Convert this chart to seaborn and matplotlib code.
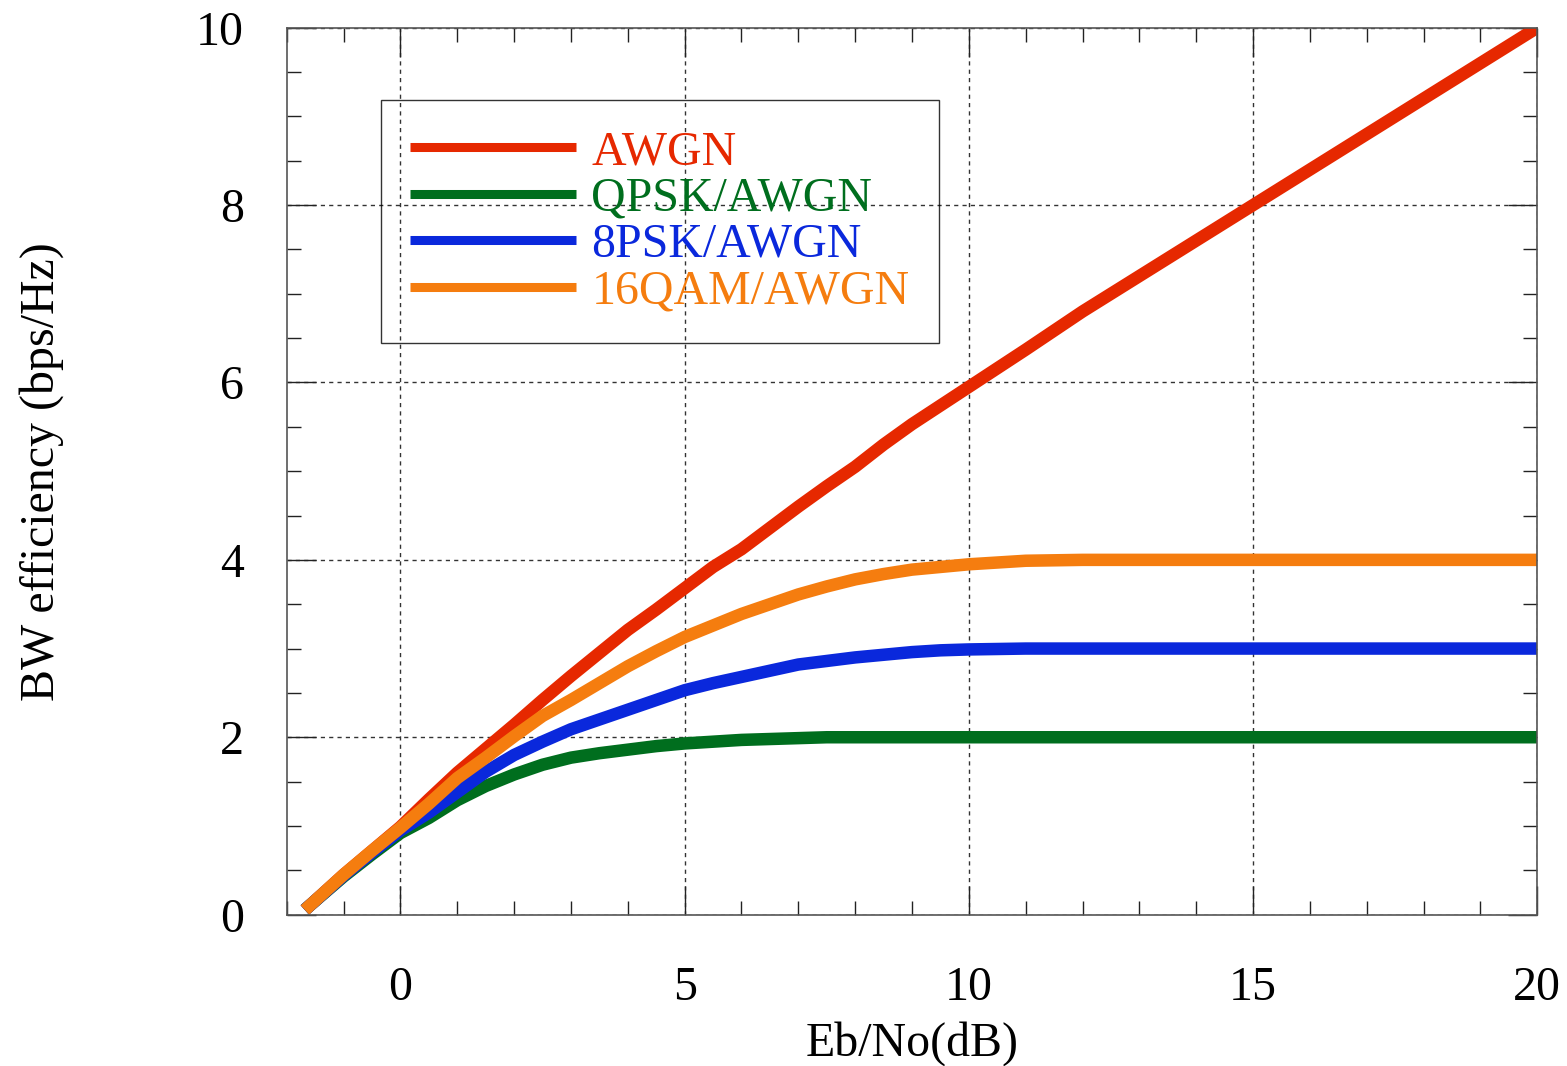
import pandas as pd
import matplotlib
matplotlib.use("Agg")
import matplotlib.pyplot as plt
import seaborn as sns
from matplotlib.ticker import MultipleLocator

# Eb/No (dB) sampling points
ebno = [-1.6, -1.0, -0.5, 0.0, 0.5, 1.0, 1.5, 2.0, 2.5, 3.0, 3.5, 4.0, 4.5,
        5.0, 5.5, 6.0, 6.5, 7.0, 7.5, 8.0, 8.5, 9.0, 9.5, 10.0,
        11, 12, 13, 14, 15, 16, 17, 18, 19, 20]

awgn = [0.1, 0.45, 0.72, 0.99, 1.3, 1.6, 1.87, 2.14, 2.42, 2.69, 2.95, 3.21,
        3.44, 3.68, 3.92, 4.12, 4.36, 4.6, 4.83, 5.05, 5.3, 5.53, 5.74, 5.95,
        6.37, 6.8, 7.2, 7.6, 8.0, 8.4, 8.8, 9.2, 9.6, 10.0]
qpsk = [0.1, 0.43, 0.68, 0.92, 1.09, 1.29, 1.45, 1.58, 1.69, 1.77, 1.82, 1.86,
        1.9, 1.93, 1.95, 1.97, 1.98, 1.99, 2.0, 2.0, 2.0, 2.0, 2.0, 2.0,
        2.0, 2.0, 2.0, 2.0, 2.0, 2.0, 2.0, 2.0, 2.0, 2.0]
psk8 = [0.1, 0.44, 0.7, 0.95, 1.15, 1.38, 1.61, 1.8, 1.95, 2.09, 2.2, 2.31,
        2.42, 2.53, 2.61, 2.68, 2.75, 2.82, 2.86, 2.9, 2.93, 2.96, 2.98, 2.99,
        3.0, 3.0, 3.0, 3.0, 3.0, 3.0, 3.0, 3.0, 3.0, 3.0]
qam16 = [0.1, 0.45, 0.72, 0.98, 1.25, 1.54, 1.77, 2.01, 2.24, 2.42, 2.61, 2.8,
         2.97, 3.13, 3.26, 3.39, 3.5, 3.61, 3.7, 3.78, 3.84, 3.89, 3.92, 3.95,
         3.99, 4.0, 4.0, 4.0, 4.0, 4.0, 4.0, 4.0, 4.0, 4.0]

series_names = ["AWGN", "QPSK/AWGN", "8PSK/AWGN", "16QAM/AWGN"]
series_values = [awgn, qpsk, psk8, qam16]
series_colors = ["#E62800", "#006E1E", "#0A28DC", "#F57D0F"]


def build_frame():
    rows = []
    for name, vals in zip(series_names, series_values):
        for x, y in zip(ebno, vals):
            rows.append({"ebno": x, "eff": y, "scheme": name})
    return pd.DataFrame(rows)


def plot_efficiency(data):
    sns.set_style("ticks")
    plt.rcParams["font.family"] = ["Liberation Serif", "DejaVu Serif"]
    plt.rcParams["text.color"] = "black"
    plt.rcParams["axes.labelcolor"] = "black"
    plt.rcParams["xtick.labelcolor"] = "black"
    plt.rcParams["ytick.labelcolor"] = "black"

    fig = plt.figure(figsize=(15.67, 10.66), dpi=100)
    ax = fig.add_axes([0.183, 0.142, 0.798, 0.832])

    sns.lineplot(data=data, x="ebno", y="eff", hue="scheme",
                 hue_order=series_names, palette=series_colors,
                 linewidth=9, ax=ax, legend=True)
    for line in ax.get_lines():
        line.set_solid_capstyle("projecting")
        line.set_solid_joinstyle("round")

    ax.set_xlim(-2, 20)
    ax.set_ylim(0, 10)
    ax.xaxis.set_major_locator(MultipleLocator(5))
    ax.xaxis.set_minor_locator(MultipleLocator(1))
    ax.yaxis.set_major_locator(MultipleLocator(2))
    ax.yaxis.set_minor_locator(MultipleLocator(0.5))

    ax.tick_params(which="both", direction="in", top=True, right=True,
                   color="#222222")
    ax.tick_params(which="major", length=21, width=1.0, labelsize=34.5)
    ax.tick_params(which="minor", length=10, width=1.0)
    ax.tick_params(axis="x", which="major", pad=37)
    ax.tick_params(axis="y", which="major", pad=31)

    ax.grid(True, which="major", color="#333333", linestyle=(0, (3, 3)),
            linewidth=1.0)
    ax.set_axisbelow(True)
    for sp in ax.spines.values():
        sp.set_color("#555555")
        sp.set_linewidth(1.2)

    ax.set_xlabel("Eb/No(dB)", fontsize=34.5, labelpad=8)
    ax.set_ylabel("BW efficiency (bps/Hz)", fontsize=34.5, labelpad=95)

    leg = ax.legend(loc="upper left", bbox_to_anchor=(0.075, 0.918),
                    borderaxespad=0, fontsize=34.5, frameon=True,
                    fancybox=False, handlelength=3.45, handletextpad=0.33,
                    labelspacing=0.05, borderpad=0.62, labelcolor="linecolor")
    leg.get_frame().set_facecolor("none")
    leg.get_frame().set_edgecolor("black")
    leg.get_frame().set_linewidth(1.0)
    for line in leg.get_lines():
        line.set_linewidth(6.5)
        line.set_solid_capstyle("butt")

    fig.savefig("out.png", dpi=100)


if __name__ == "__main__":
    df = build_frame()
    plot_efficiency(df)
